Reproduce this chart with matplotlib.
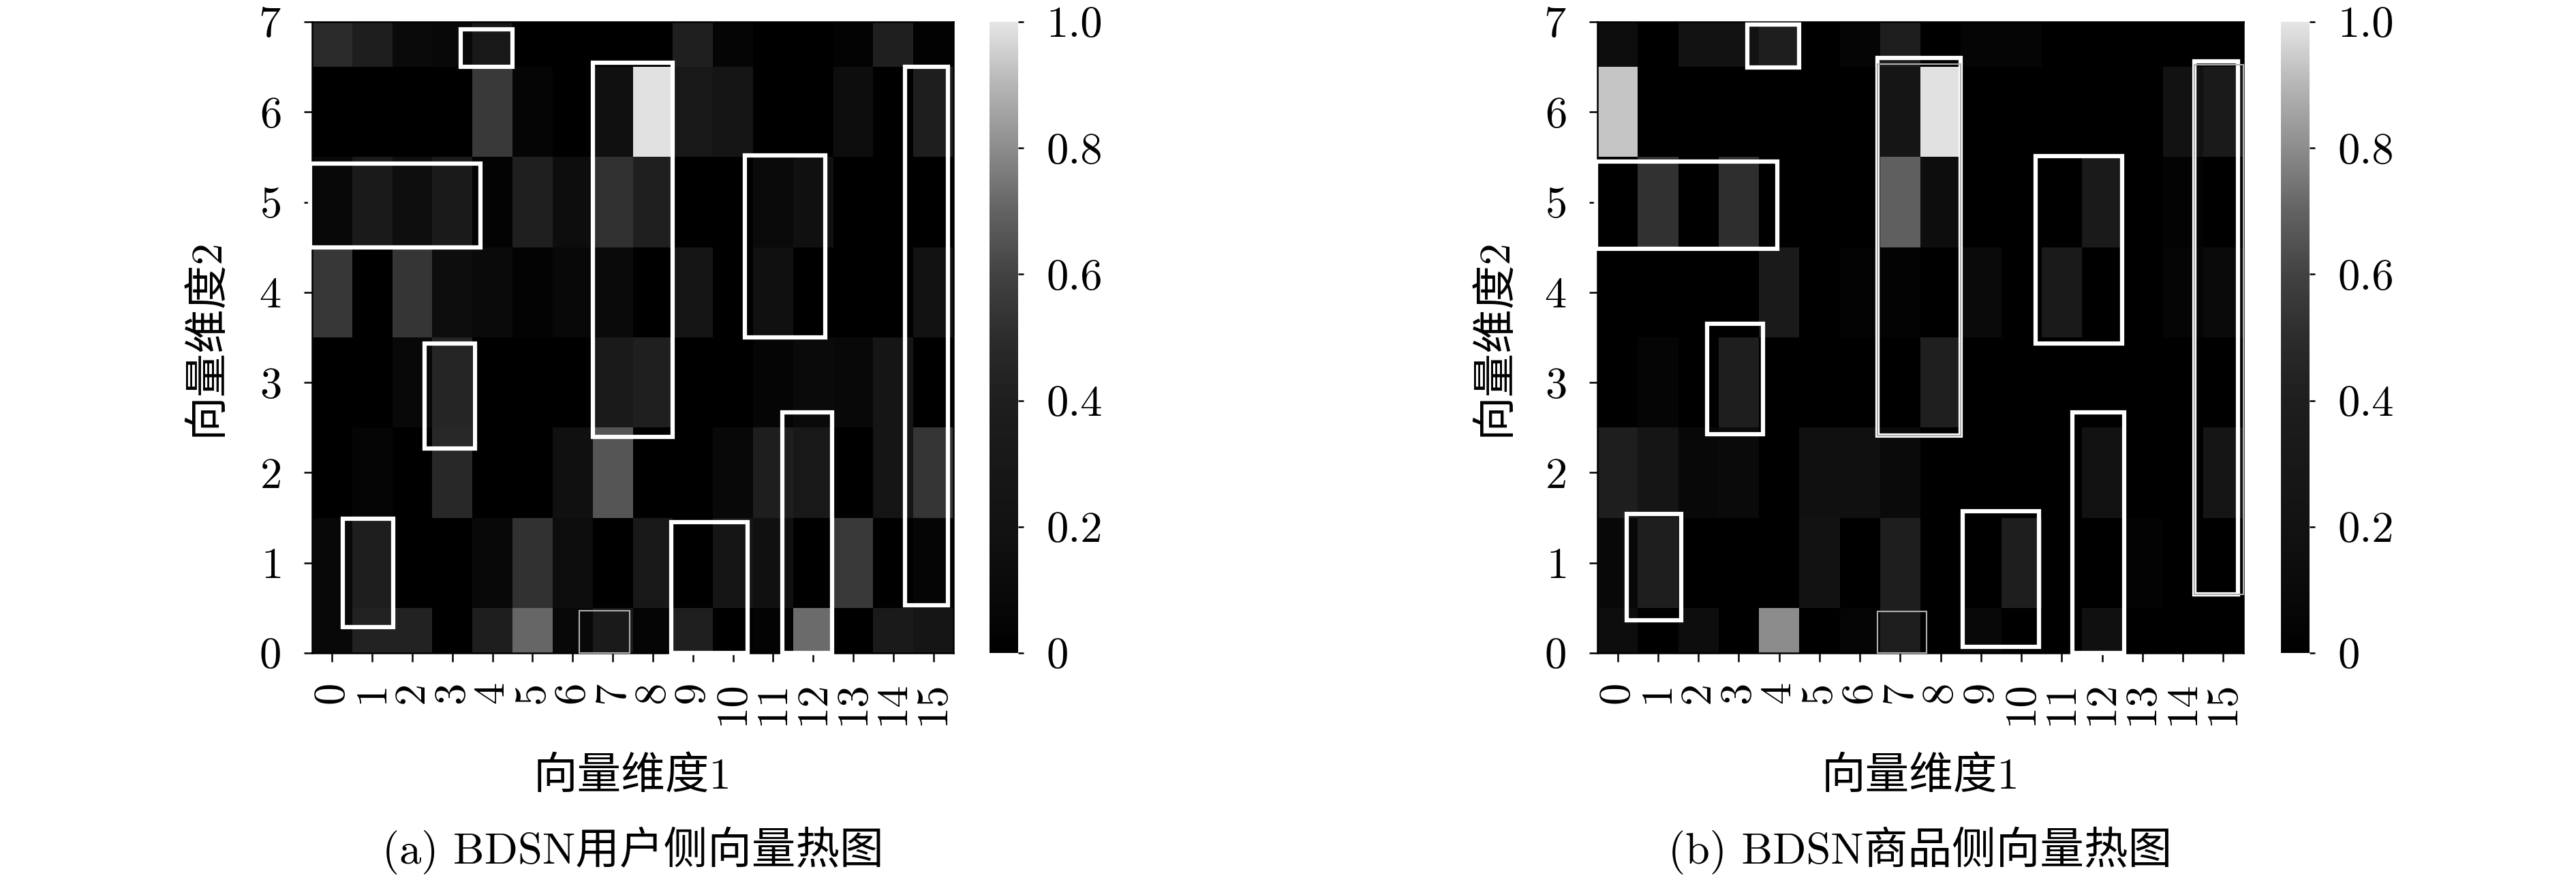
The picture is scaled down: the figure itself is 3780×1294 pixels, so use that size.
import matplotlib.pyplot as plt
import numpy as np
from matplotlib.colors import LinearSegmentedColormap
from matplotlib.patches import Rectangle

plt.rcParams["font.family"] = ["cmr10", "Noto Sans CJK SC"]
plt.rcParams["mathtext.fontset"] = "cm"
plt.rcParams["axes.unicode_minus"] = False
plt.rcParams["axes.formatter.use_mathtext"] = True
plt.rcParams["font.size"] = 15.5

dim1 = list(range(16))
dim2 = list(range(8))

# rows from top (dim2 = 7) down to bottom (dim2 = 0)
user_vec = [
    [0.49, 0.40, 0.10, 0.08, 0.30, 0.00, 0.00, 0.00, 0.00, 0.41, 0.05, 0.00, 0.00, 0.03, 0.41, 0.02],
    [0.00, 0.00, 0.00, 0.00, 0.56, 0.05, 0.00, 0.18, 0.99, 0.30, 0.25, 0.00, 0.00, 0.14, 0.00, 0.40],
    [0.08, 0.33, 0.15, 0.33, 0.03, 0.41, 0.14, 0.52, 0.41, 0.00, 0.00, 0.10, 0.18, 0.00, 0.00, 0.00],
    [0.55, 0.00, 0.54, 0.14, 0.10, 0.03, 0.08, 0.10, 0.00, 0.25, 0.00, 0.18, 0.00, 0.00, 0.00, 0.20],
    [0.00, 0.00, 0.08, 0.45, 0.00, 0.00, 0.00, 0.33, 0.41, 0.00, 0.00, 0.05, 0.10, 0.08, 0.25, 0.00],
    [0.00, 0.05, 0.00, 0.47, 0.00, 0.00, 0.18, 0.66, 0.00, 0.00, 0.08, 0.40, 0.30, 0.00, 0.25, 0.54],
    [0.08, 0.40, 0.00, 0.00, 0.08, 0.52, 0.14, 0.00, 0.30, 0.00, 0.25, 0.18, 0.00, 0.56, 0.00, 0.05],
    [0.08, 0.43, 0.43, 0.00, 0.40, 0.71, 0.08, 0.33, 0.05, 0.41, 0.00, 0.03, 0.72, 0.00, 0.33, 0.25],
]

item_vec = [
    [0.14, 0.00, 0.20, 0.20, 0.40, 0.00, 0.05, 0.40, 0.00, 0.05, 0.05, 0.00, 0.00, 0.00, 0.00, 0.00],
    [0.93, 0.00, 0.00, 0.00, 0.00, 0.00, 0.00, 0.25, 0.99, 0.00, 0.00, 0.00, 0.00, 0.00, 0.20, 0.33],
    [0.00, 0.52, 0.00, 0.51, 0.00, 0.00, 0.00, 0.69, 0.14, 0.00, 0.00, 0.00, 0.33, 0.00, 0.03, 0.00],
    [0.00, 0.00, 0.00, 0.00, 0.33, 0.00, 0.03, 0.03, 0.00, 0.10, 0.00, 0.33, 0.00, 0.00, 0.05, 0.10],
    [0.00, 0.05, 0.00, 0.40, 0.00, 0.00, 0.00, 0.00, 0.41, 0.00, 0.00, 0.00, 0.00, 0.00, 0.00, 0.00],
    [0.40, 0.25, 0.08, 0.10, 0.00, 0.18, 0.18, 0.10, 0.00, 0.00, 0.00, 0.00, 0.20, 0.00, 0.00, 0.25],
    [0.08, 0.40, 0.00, 0.00, 0.00, 0.20, 0.00, 0.40, 0.00, 0.00, 0.40, 0.00, 0.00, 0.03, 0.00, 0.00],
    [0.14, 0.00, 0.14, 0.00, 0.80, 0.00, 0.05, 0.40, 0.00, 0.08, 0.00, 0.00, 0.18, 0.00, 0.00, 0.00],
]

# highlight boxes (x0, y0, x1, y1) in data units
user_boxes = [
    (3.2, 6.5, 4.5, 6.92), (6.5, 2.4, 8.5, 6.55), (-0.55, 4.5, 3.7, 5.43),
    (10.3, 3.5, 12.3, 5.52), (14.3, 0.53, 15.37, 6.5), (2.3, 2.27, 3.56, 3.43),
    (11.24, 0.0, 12.48, 2.67), (0.26, 0.29, 1.52, 1.49), (8.46, 0.0, 10.37, 1.45),
]
user_thin = [(6.17, 0.0, 7.43, 0.47)]

item_boxes = [
    (3.22, 6.49, 4.49, 6.97), (6.44, 2.41, 8.49, 6.6), (-0.53, 4.48, 3.95, 5.45),
    (10.36, 3.43, 12.49, 5.51), (14.28, 0.65, 15.36, 6.56), (2.22, 2.43, 3.6, 3.65),
    (11.27, 0.0, 12.55, 2.67), (0.22, 0.36, 1.58, 1.54), (8.55, 0.07, 10.44, 1.57),
]
item_thin = [(6.44, 0.0, 7.65, 0.46), (6.44, 2.41, 8.49, 6.53), (14.28, 0.65, 15.5, 6.52)]

cbar_ticks = [0, 0.2, 0.4, 0.6, 0.8, 1.0]
cbar_labels = ["0", "0.2", "0.4", "0.6", "0.8", "1.0"]

cmap_stops = [0, 0.1, 0.2, 0.3, 0.4, 0.5, 0.6, 0.7, 0.8, 0.9, 1.0]
cmap_grays = [0, 10, 18, 24, 30, 44, 66, 98, 140, 181, 229]
cmap = LinearSegmentedColormap.from_list(
    "bdsn_gray", [(s, (g / 255, g / 255, g / 255)) for s, g in zip(cmap_stops, cmap_grays)]
)

W, H = 3780, 1294


def px_rect(x0, y0, x1, y1):
    return [x0 / W, 1 - y1 / H, (x1 - x0) / W, (y1 - y0) / H]


def draw_panel(fig, ax_box, cb_box, data, boxes, thin, ylabel_x, caption):
    ax = fig.add_axes(px_rect(*ax_box))
    cax = fig.add_axes(px_rect(*cb_box))
    z = np.array(data)[::-1]
    mesh = ax.pcolormesh(dim1, dim2, z, cmap=cmap, vmin=0, vmax=1, shading="nearest")
    ax.set_xlim(-0.5, 15.5)
    ax.set_ylim(0, 7)
    ax.set_xticks(dim1)
    ax.set_xticklabels([str(i) for i in dim1], rotation=90)
    ax.set_yticks(range(8))
    ax.tick_params(axis="x", length=3, width=0.6, pad=7)
    ax.tick_params(axis="y", length=3, width=0.6, pad=8)
    for sp in ax.spines.values():
        sp.set_linewidth(0.6)

    for x0, y0, x1, y1 in boxes:
        ax.add_patch(Rectangle((x0, y0), x1 - x0, y1 - y0, fill=False,
                               ec="white", lw=1.5, clip_on=False, zorder=3))
    for x0, y0, x1, y1 in thin:
        ax.add_patch(Rectangle((x0, y0), x1 - x0, y1 - y0, fill=False,
                               ec="#b0b0b0", lw=0.5, clip_on=False, zorder=3))

    cb = fig.colorbar(mesh, cax=cax)
    cb.set_ticks(cbar_ticks)
    cb.set_ticklabels(cbar_labels)
    cb.outline.set_visible(False)
    cax.tick_params(length=2, width=0.6, pad=8)

    xc = (ax_box[0] + ax_box[2]) / 2
    yc = (ax_box[1] + ax_box[3]) / 2
    fig.text(ylabel_x / W, 1 - yc / H, "向量维度2", rotation=90, ha="center", va="center")
    fig.text(xc / W, 1 - 1140 / H, "向量维度1", ha="center", va="center")
    fig.text(xc / W, 1 - 1248 / H, caption, ha="center", va="center")


fig = plt.figure(figsize=(W / 300, H / 300), dpi=300)
draw_panel(fig, (458, 32, 1399, 958), (1452, 32, 1494, 958), user_vec,
           user_boxes, user_thin, 302, "(a) BDSN用户侧向量热图")
draw_panel(fig, (2344, 32, 3292, 958), (3347, 32, 3389, 958), item_vec,
           item_boxes, item_thin, 2192, "(b) BDSN商品侧向量热图")
fig.savefig("out.png", dpi=300)
